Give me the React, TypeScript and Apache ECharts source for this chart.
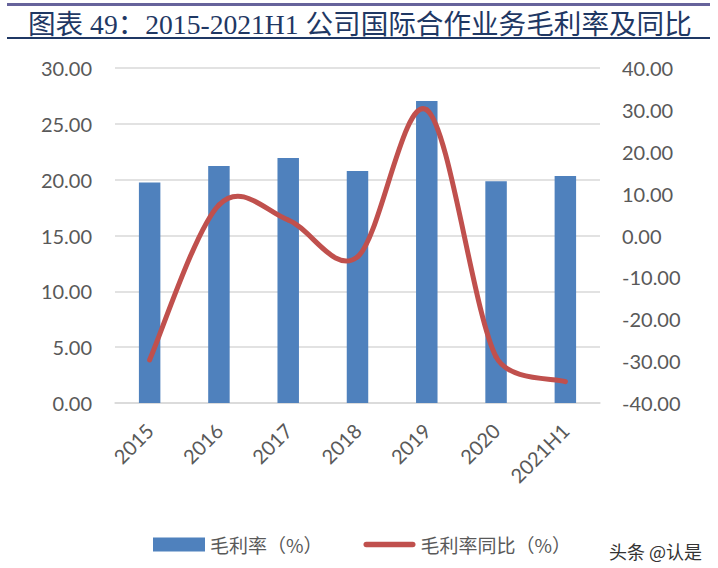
import React, { useRef, useEffect } from 'react';
import * as echarts from 'echarts';

const categories = ['2015', '2016', '2017', '2018', '2019', '2020', '2021H1'];
const grossMargin = [19.74, 21.22, 21.94, 20.77, 27.04, 19.86, 20.32];
const marginYoY = [-29.7, 7.3, 3.7, -5.1, 30.0, -29.0, -34.9];
const seriesNames = ['毛利率（%）', '毛利率同比（%）'];
const titleText = '图表 49：2015-2021H1 公司国际合作业务毛利率及同比';
const watermark = '头条 @认是';

const labelColor = '#595959';
const lineColor = '#c0504d';
const numFont = 'Lato, "Noto Sans", sans-serif';
const cjkFont = '"Noto Sans CJK SC", sans-serif';
const lineIcon = 'path://M3,0 H53 A3,3 0 0 1 53,6 H3 A3,3 0 0 1 3,0 Z';

// keep a control handle from reaching past the far end of its segment (vertically)
const limitHandle = (from: number[], to: number[], dx: number, dy: number) => {
  const span = to[1] - from[1];
  if (dy * span > 0 && Math.abs(dy) > Math.abs(span)) {
    const s = Math.abs(span) / Math.abs(dy);
    return [from[0] + dx * s, from[1] + dy * s];
  }
  return [from[0] + dx, from[1] + dy];
};

// Excel-style smoothed line: one Catmull-Rom bezier segment per data point
const renderSmoothSegment = (params: any, api: any) => {
  const n = marginYoY.length;
  const i = params.dataIndex;
  if (i >= n - 1) return null;
  const clamp = (k: number) => Math.max(0, Math.min(n - 1, k));
  const pt = (k: number) => api.coord([k, marginYoY[k]]);
  const p0 = pt(clamp(i - 1));
  const p1 = pt(i);
  const p2 = pt(i + 1);
  const p3 = pt(clamp(i + 2));
  const c1 = limitHandle(p1, p2, (p2[0] - p0[0]) / 6, (p2[1] - p0[1]) / 6);
  const c2 = limitHandle(p2, p1, -(p3[0] - p1[0]) / 6, -(p3[1] - p1[1]) / 6);
  return {
    type: 'bezierCurve',
    shape: {
      x1: p1[0],
      y1: p1[1],
      x2: p2[0],
      y2: p2[1],
      cpx1: c1[0],
      cpy1: c1[1],
      cpx2: c2[0],
      cpy2: c2[1],
    },
    style: { stroke: lineColor, lineWidth: 5, lineCap: 'round', fill: null },
  };
};

const App: React.FC = () => {
  const chartRef = useRef<HTMLDivElement>(null);

  useEffect(() => {
    document.body.style.margin = '0';
    if (!chartRef.current) return;
    const chart = echarts.init(chartRef.current, undefined, { renderer: 'svg' });

    chart.setOption({
      animation: false,
      backgroundColor: '#ffffff',
      title: {
        text: titleText,
        left: 23,
        top: 6,
        textStyle: {
          fontFamily: '"Liberation Serif", "Noto Sans CJK SC", serif',
          fontSize: 27.6,
          fontWeight: 'normal',
          color: '#1f3864',
        },
      },
      graphic: [
        { type: 'rect', shape: { x: 7, y: 3, width: 703, height: 3 }, style: { fill: '#66639b' } },
        { type: 'rect', shape: { x: 7, y: 37, width: 703, height: 2 }, style: { fill: '#1f3864' } },
        {
          type: 'text',
          left: 609,
          top: 542,
          style: { text: watermark, font: `18px ${cjkFont}`, fill: '#333333' },
        },
      ],
      legend: {
        left: 148,
        top: 530,
        itemWidth: 52,
        itemHeight: 14,
        itemGap: 41,
        symbolKeepAspect: true,
        textStyle: { fontFamily: cjkFont, fontSize: 19, color: labelColor },
        data: [
          { name: seriesNames[0], icon: 'rect' },
          {
            name: seriesNames[1],
            icon: lineIcon,
            itemStyle: { color: lineColor, borderWidth: 0 },
          },
        ],
      },
      grid: { left: 115, right: 118, top: 68, bottom: 165 },
      xAxis: {
        type: 'category',
        data: categories,
        axisLine: { lineStyle: { color: '#d9d9d9', width: 1.5 } },
        axisTick: { show: false },
        axisLabel: {
          rotate: 45,
          margin: 24,
          fontFamily: numFont,
          fontSize: 20,
          color: labelColor,
          interval: 0,
        },
      },
      yAxis: [
        {
          type: 'value',
          min: 0,
          max: 30,
          interval: 5,
          axisLine: { show: false },
          axisTick: { show: false },
          splitLine: { lineStyle: { color: '#d9d9d9', width: 1.5 } },
          axisLabel: {
            margin: 23,
            fontFamily: numFont,
            fontSize: 20,
            color: labelColor,
            formatter: (v: number) => v.toFixed(2),
          },
        },
        {
          type: 'value',
          min: -40,
          max: 40,
          interval: 10,
          axisLine: { show: false },
          axisTick: { show: false },
          splitLine: { show: false },
          axisLabel: {
            margin: 22,
            fontFamily: numFont,
            fontSize: 20,
            color: labelColor,
            formatter: (v: number) => v.toFixed(2),
          },
        },
      ],
      series: [
        {
          name: seriesNames[0],
          type: 'bar',
          yAxisIndex: 0,
          z: 2,
          data: grossMargin,
          barWidth: '31%',
          itemStyle: { color: '#4f81bd' },
        },
        {
          name: seriesNames[1],
          type: 'custom',
          yAxisIndex: 1,
          z: 5,
          clip: false,
          data: marginYoY.map((v, i) => [i, v]),
          encode: { x: 0, y: 1 },
          renderItem: renderSmoothSegment,
          itemStyle: { color: lineColor },
        },
      ],
    });

    return () => {
      chart.dispose();
    };
  }, []);

  return <div ref={chartRef} style={{ width: 718, height: 568 }} />;
};

export default App;
